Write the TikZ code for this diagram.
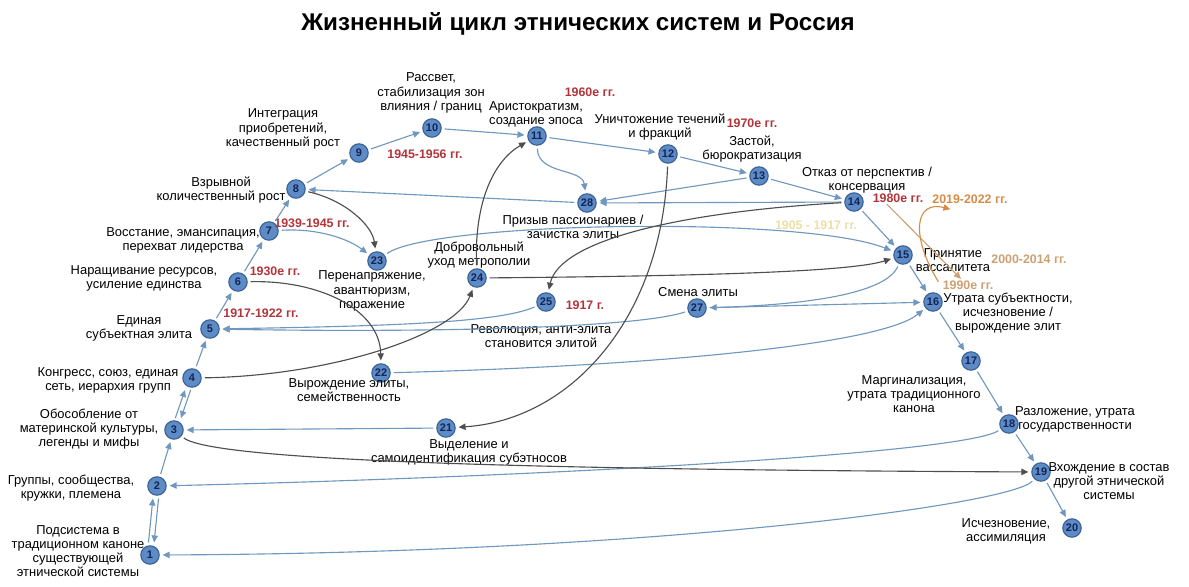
\documentclass[tikz,border=0pt]{standalone}
\usepackage{fontspec}
\setmainfont{Liberation Sans}
\usepackage{xcolor}
\definecolor{lcNode}{RGB}{92,139,198}
\definecolor{lcNodeEdge}{RGB}{58,96,148}
\definecolor{lcNodeText}{RGB}{20,36,86}
\definecolor{lcFlow}{RGB}{112,152,190}
\definecolor{lcDark}{RGB}{78,78,78}
\definecolor{lcRed}{RGB}{178,52,58}
\definecolor{lcTan}{RGB}{205,160,115}
\definecolor{lcOrange}{RGB}{214,140,70}
\definecolor{lcPale}{RGB}{236,222,165}
\usepackage{tikz}
\usetikzlibrary{arrows.meta, positioning}

\begin{document}
\begin{tikzpicture}[
    x=0.025cm, y=-0.025cm,
    stageNode/.style={
        circle, draw=lcNodeEdge, line width=0.8pt,
        fill=lcNode, text=lcNodeText,
        font=\fontsize{7.8}{8}\selectfont\bfseries,
        inner sep=0pt, minimum size=0.46cm
    },
    stageLabel/.style={
        font=\fontsize{9.2}{10.1}\selectfont, align=center, text=black, inner sep=1pt
    },
    dateLabel/.style={
        font=\fontsize{8.8}{10}\selectfont\bfseries, inner sep=1pt
    },
    flowArrow/.style={
        -{Triangle[length=5pt,width=4.5pt]}, line width=0.8pt, draw=lcFlow,
        shorten >=2pt, shorten <=2pt
    },
    darkArrow/.style={
        -{Triangle[length=5pt,width=4.5pt]}, line width=0.8pt, draw=lcDark,
        shorten >=2pt, shorten <=2pt
    },
    dateArrow/.style={
        -{Triangle[length=5pt,width=4.5pt]}, line width=0.8pt
    }
]

    \useasboundingbox (0,0) rectangle (1189,586);

    % Title
    \node[font=\fontsize{17.2}{19}\selectfont\bfseries] (title) at (578,24) {Жизненный цикл этнических систем и Россия};

    % Stages (pixel grid, y downward)
    \node[stageNode] (n1) at (150,555) {1};
    \node[stageNode] (n2) at (157,486) {2};
    \node[stageNode] (n3) at (174,430) {3};
    \node[stageNode] (n4) at (192,378) {4};
    \node[stageNode] (n5) at (210,329) {5};
    \node[stageNode] (n6) at (238,282) {6};
    \node[stageNode] (n7) at (269,231) {7};
    \node[stageNode] (n8) at (296,189) {8};
    \node[stageNode] (n9) at (359,153) {9};
    \node[stageNode] (n10) at (432,128) {10};
    \node[stageNode] (n11) at (537,136) {11};
    \node[stageNode] (n12) at (668,154) {12};
    \node[stageNode] (n13) at (759,176) {13};
    \node[stageNode] (n14) at (854,202) {14};
    \node[stageNode] (n15) at (903,255) {15};
    \node[stageNode] (n16) at (933,302) {16};
    \node[stageNode] (n17) at (971,361) {17};
    \node[stageNode] (n18) at (1009,424) {18};
    \node[stageNode] (n19) at (1041,472) {19};
    \node[stageNode] (n20) at (1072,528) {20};
    \node[stageNode] (n21) at (446,428) {21};
    \node[stageNode] (n22) at (381,373) {22};
    \node[stageNode] (n23) at (377,261) {23};
    \node[stageNode] (n24) at (477,278) {24};
    \node[stageNode] (n25) at (546,302) {25};
    \node[stageNode] (n27) at (697,308) {27};
    \node[stageNode] (n28) at (587,203) {28};

    % Stage descriptions
    \node[stageLabel] (l1) at (78,551) {Подсистема в\\традиционном каноне\\существующей\\этнической системы};
    \node[stageLabel] (l2) at (71,488) {Группы, сообщества,\\кружки, племена};
    \node[stageLabel] (l3) at (89,429) {Обособление от\\материнской культуры,\\легенды и мифы};
    \node[stageLabel] (l4) at (108,380) {Конгресс, союз, единая\\сеть, иерархия групп};
    \node[stageLabel] (l5) at (139,328) {Единая\\субъектная элита};
    \node[stageLabel] (l6) at (144,278) {Наращивание ресурсов,\\усиление единства};
    \node[stageLabel] (l7) at (183,240) {Восстание, эмансипация,\\перехват лидерства};
    \node[stageLabel] (l8) at (221,190) {Взрывной\\количественный рост};
    \node[stageLabel] (l9) at (283,129) {Интеграция\\приобретений,\\качественный рост};
    \node[stageLabel] (l10) at (431,93) {Рассвет,\\стабилизация зон\\влияния / границ};
    \node[stageLabel] (l11) at (536,114) {Аристократизм,\\создание эпоса};
    \node[stageLabel] (l12) at (660,127) {Уничтожение течений\\и фракций};
    \node[stageLabel] (l13) at (752,149) {Застой,\\бюрократизация};
    \node[stageLabel] (l14) at (867,180) {Отказ от перспектив /\\консервация};
    \node[stageLabel] (l15) at (953,260) {Принятие\\вассалитета};
    \node[stageLabel] (l16) at (1008,313) {Утрата субъектности,\\исчезновение /\\вырождение элит};
    \node[stageLabel] (l17) at (914,394) {Маргинализация,\\утрата традиционного\\канона};
    \node[stageLabel] (l18) at (1075,419) {Разложение, утрата\\государственности};
    \node[stageLabel] (l19) at (1109,481) {Вхождение в состав\\другой этнической\\системы};
    \node[stageLabel] (l20) at (1006,531) {Исчезновение,\\ассимиляция};
    \node[stageLabel] (l21) at (469,452) {Выделение и\\самоидентификация субэтносов};
    \node[stageLabel] (l22) at (349,390) {Вырождение элиты,\\семейственность};
    \node[stageLabel] (l23) at (372,291) {Перенапряжение,\\авантюризм,\\поражение};
    \node[stageLabel] (l24) at (479,255) {Добровольный\\уход метрополии};
    \node[stageLabel] (l25) at (541,336) {Революция, анти-элита\\становится элитой};
    \node[stageLabel] (l27) at (698,292) {Смена элиты};
    \node[stageLabel] (l28) at (573,227) {Призыв пассионариев /\\зачистка элиты};

    % Dates
    \node[dateLabel, text=lcRed] (d1960) at (590,92) {1960е гг.};
    \node[dateLabel, text=lcRed] (d1945) at (425,154) {1945-1956 гг.};
    \node[dateLabel, text=lcRed] (d1970) at (752,123) {1970е гг.};
    \node[dateLabel, text=lcRed] (d1939) at (312,223) {1939-1945 гг.};
    \node[dateLabel, text=lcRed] (d1930) at (275,271) {1930е гг.};
    \node[dateLabel, text=lcRed] (d1917a) at (261,313) {1917-1922 гг.};
    \node[dateLabel, text=lcRed] (d1917b) at (585,305) {1917 г.};
    \node[dateLabel, text=lcRed] (d1980) at (898,198) {1980е гг.};
    \node[dateLabel, text=lcOrange] (d2019) at (970,199) {2019-2022 гг.};
    \node[dateLabel, text=lcTan] (d2000) at (1029,259) {2000-2014 гг.};
    \node[dateLabel, text=lcTan] (d1990) at (968,285) {1990е гг.};
    \node[dateLabel, text=lcPale] (d1905) at (816,225) {1905 - 1917 гг.};

    % Main cycle
    \draw[flowArrow, transform canvas={xshift=-2pt}] (n1) -- (n2);
    \draw[flowArrow, transform canvas={xshift=2pt}] (n2) -- (n1);
    \draw[flowArrow] (n2) -- (n3);
    \draw[flowArrow, transform canvas={xshift=-2pt}] (n3) -- (n4);
    \draw[flowArrow, transform canvas={xshift=2pt}] (n4) -- (n3);
    \draw[flowArrow] (n4) -- (n5);
    \draw[flowArrow] (n5) -- (n6);
    \draw[flowArrow] (n6) -- (n7);
    \draw[flowArrow] (n7) -- (n8);
    \draw[flowArrow] (n8) -- (n9);
    \draw[flowArrow] (n9) -- (n10);
    \draw[flowArrow] (n10) -- (n11);
    \draw[flowArrow] (n11) -- (n12);
    \draw[flowArrow] (n12) -- (n13);
    \draw[flowArrow] (n13) -- (n14);
    \draw[flowArrow] (n14) -- (n15);
    \draw[flowArrow] (n15) -- (n16);
    \draw[flowArrow] (n16) -- (n17);
    \draw[flowArrow] (n17) -- (n18);
    \draw[flowArrow] (n18) -- (n19);
    \draw[flowArrow] (n19) -- (n20);

    % Side branches, light
    \draw[flowArrow] (n11) .. controls (538,175) and (582,168) .. (n28);
    \draw[flowArrow] (n13) -- (n28);
    \draw[flowArrow] (n14) -- (n28);
    \draw[flowArrow] (n28) -- (n8);
    \draw[flowArrow] (n7) .. controls (320,228) and (350,240) .. (n23);
    \draw[flowArrow] (n23) .. controls (430,222) and (800,215) .. (n15);
    \draw[flowArrow] (n21) -- (n3);
    \draw[flowArrow] (n22) .. controls (650,366) and (880,345) .. (n16);
    \draw[flowArrow] (n25) .. controls (500,322) and (400,326) .. (n5);
    \draw[flowArrow] (n27) .. controls (640,327) and (450,333) .. (n5);
    \draw[flowArrow] (n15) .. controls (885,295) and (800,305) .. (n27);
    \draw[flowArrow] (n27) -- (n16);
    \draw[flowArrow] (n18) .. controls (960,455) and (500,478) .. (n2);
    \draw[flowArrow] (n19) .. controls (1010,505) and (650,553) .. (n1);

    % Side branches, dark
    \draw[darkArrow] (n8) .. controls (345,200) and (372,225) .. (n23);
    \draw[darkArrow] (n14) .. controls (680,212) and (560,240) .. (n25);
    \draw[darkArrow] (n24) .. controls (700,276) and (850,272) .. (n15);
    \draw[darkArrow] (n24) .. controls (474,200) and (495,160) .. (n11);
    \draw[darkArrow] (n4) .. controls (330,376) and (455,335) .. (n24);
    \draw[darkArrow] (n6) .. controls (320,280) and (380,310) .. (n22);
    \draw[darkArrow] (n12) .. controls (662,320) and (570,420) .. (n21);
    \draw[darkArrow] (n3) .. controls (215,463) and (600,470) .. (n19);

    % Recent period
    \draw[dateArrow, draw=lcTan] ([xshift=-8pt]d1980.south) -- ([xshift=-5pt]d1990.north);
    \draw[dateArrow, draw=lcOrange] ([xshift=-2pt,yshift=-2pt]d1990.north west) .. controls (910,235) and (915,200) .. ([xshift=14pt,yshift=-3pt]d2019.south west);

\end{tikzpicture}
\end{document}
